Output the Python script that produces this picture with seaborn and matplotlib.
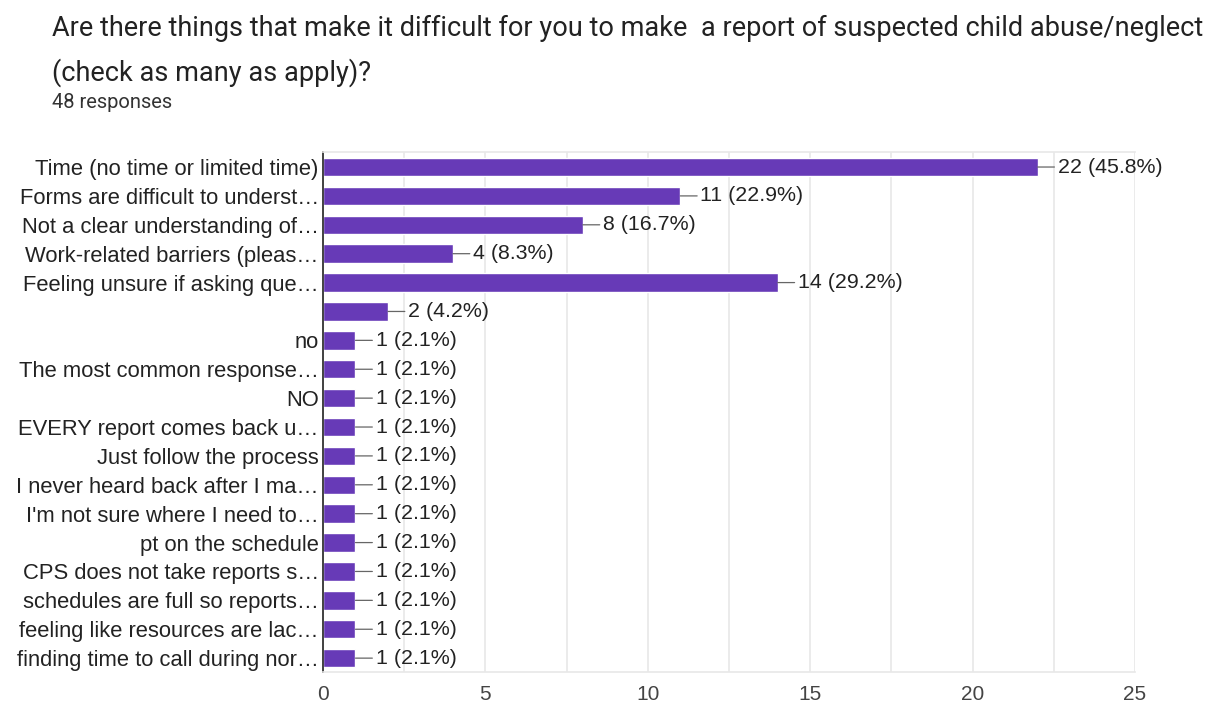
import matplotlib
matplotlib.use("Agg")
import matplotlib.pyplot as plt
import seaborn as sns
import numpy as np

categories = [
    "Time (no time or limited time)",
    "Forms are difficult to underst\u2026",
    "Not a clear understanding of\u2026",
    "Work-related barriers (pleas\u2026",
    "Feeling unsure if asking que\u2026",
    "",
    "no",
    "The most common response\u2026",
    "NO",
    "EVERY report comes back u\u2026",
    "Just follow the process",
    "I never heard back after I ma\u2026",
    "I'm not sure where I need to\u2026",
    "pt on the schedule",
    "CPS does not take reports s\u2026",
    "schedules are full so reports\u2026",
    "feeling like resources are lac\u2026",
    "finding time to call during nor\u2026",
]
counts = [22, 11, 8, 4, 14, 2, 1, 1, 1, 1, 1, 1, 1, 1, 1, 1, 1, 1]
percents = [45.8, 22.9, 16.7, 8.3, 29.2, 4.2, 2.1, 2.1, 2.1, 2.1, 2.1, 2.1, 2.1, 2.1, 2.1, 2.1, 2.1, 2.1]
x_ticks = [0, 5, 10, 15, 20, 25]

title = "Are there things that make it difficult for you to make  a report of suspected child abuse/neglect\n(check as many as apply)?"
subtitle = "48 responses"

sns.set_theme(style="white")
plt.rcParams["font.family"] = ["Liberation Sans", "DejaVu Sans"]

BAR = "#673ab7"
TXT = "#222222"
GRID = "#e8e8e8"

fig = plt.figure(figsize=(12.06, 7.06), dpi=100)
ax = fig.add_axes([323 / 1206, 1 - 672 / 706, (1135 - 323) / 1206, (672 - 152) / 706])

sns.barplot(x=counts, y=categories, order=categories, orient="h", color=BAR,
            saturation=1, width=0.64, ax=ax)

ax.set_xlim(0, 25)
ax.set_ylim(17.48, -0.52)
ax.set_xticks(x_ticks)
ax.set_xticks(np.arange(2.5, 25, 5), minor=True)
ax.grid(axis="x", which="both", color=GRID, linewidth=1.2)
ax.set_axisbelow(True)
ax.tick_params(axis="x", which="both", length=0, labelsize=15, colors="#444444", pad=9)
ax.tick_params(axis="y", length=0, labelsize=15.8, colors=TXT, pad=3)
ax.set_xlabel("")
ax.set_ylabel("")
for s in ["top", "bottom"]:
    ax.spines[s].set_visible(True)
    ax.spines[s].set_color(GRID)
    ax.spines[s].set_linewidth(1.2)
ax.spines["right"].set_visible(False)
ax.spines["left"].set_color("#333333")
ax.spines["left"].set_linewidth(1.3)

for i, (c, p) in enumerate(zip(counts, percents)):
    ax.annotate(f"{c} ({p}%)", xy=(c, i), xytext=(14.5, 0), textcoords="offset points",
                va="center", ha="left", fontsize=15.4, color=TXT,
                arrowprops=dict(arrowstyle="-", color="#666666", lw=0.9,
                                shrinkA=0, shrinkB=0))

fig.text(52 / 1206, 1 - 15 / 706, title, ha="left", va="top", fontsize=19.5,
         color=TXT, family=["Roboto", "DejaVu Sans"], linespacing=1.72)
fig.text(52 / 1206, 1 - 103 / 706, subtitle, ha="left", va="center", fontsize=14.5,
         color="#333333", family=["Roboto", "DejaVu Sans"])

fig.savefig("out.png", dpi=100)
